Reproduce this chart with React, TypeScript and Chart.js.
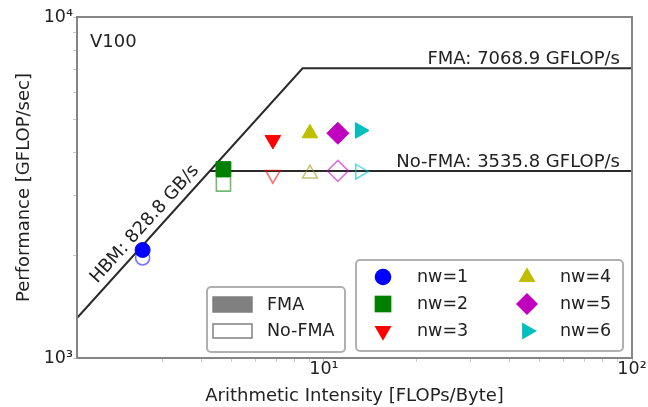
import React, { useEffect, useRef } from 'react';
import { Chart, registerables } from 'chart.js';

Chart.register(...registerables);

// ---- data ----
const seriesLabels = ['nw=1', 'nw=2', 'nw=3', 'nw=4', 'nw=5', 'nw=6'];
const seriesColors = ['#0000ff', '#008000', '#ff0000', '#bfbf00', '#bf00bf', '#00bfbf'];
const seriesOpenColors = [
  'rgba(0,0,255,0.55)',
  'rgba(0,128,0,0.55)',
  'rgba(255,0,0,0.55)',
  'rgba(150,150,0,0.55)',
  'rgba(191,0,191,0.55)',
  'rgba(0,191,191,0.6)',
];
const seriesStyles = ['circle', 'rect', 'triangle', 'triangle', 'rectRot', 'triangle'];
const seriesRotations = [0, 0, 180, 0, 0, 90];
const seriesRadii = [7.5, 10.5, 9, 9, 11, 9];

const arithmeticIntensity = [2.58, 4.72, 6.83, 9.01, 11.1, 13.1];
const perfFMA = [2074, 3581, 4360, 4560, 4560, 4648];
const perfNoFMA = [1965, 3236, 3447, 3471, 3539, 3519];

const hbmBandwidth = 828.8; // GB/s
const peakFMA = 7068.9; // GFLOP/s
const peakNoFMA = 3535.8; // GFLOP/s

const xRange = [1.58, 100];
const yRange = [1000, 10000];

const deviceLabel = 'V100';
const fmaLabel = `FMA: ${peakFMA} GFLOP/s`;
const noFmaLabel = `No-FMA: ${peakNoFMA} GFLOP/s`;
const hbmLabel = `HBM: ${hbmBandwidth} GB/s`;
const xTitle = 'Arithmetic Intensity [FLOPs/Byte]';
const yTitle = 'Performance [GFLOP/sec]';
const fmaLegendLabels = ['FMA', 'No-FMA'];

const SUP: Record<number, string> = { 0: '⁰', 1: '¹', 2: '²', 3: '³', 4: '⁴', 5: '⁵' };
const FONT = '"DejaVu Sans", sans-serif';
const TEXT = '#222222';
const SPINE = '#858585';

function logTick(v: number): string | null {
  const e = Math.floor(Math.log10(v) + 1e-9);
  const m = v / Math.pow(10, e);
  if (Math.abs(m - Math.round(m)) > 1e-6) return null;
  if (Math.abs(m - 1) < 1e-6) return '10' + (SUP[e] ?? '');
  return '';
}

function drawMarker(ctx: CanvasRenderingContext2D, style: string, rot: number, x: number, y: number, r: number) {
  ctx.beginPath();
  if (style === 'circle') {
    ctx.arc(x, y, r, 0, Math.PI * 2);
  } else if (style === 'rect') {
    const s = r * Math.SQRT1_2;
    ctx.rect(x - s, y - s, 2 * s, 2 * s);
  } else if (style === 'rectRot') {
    ctx.moveTo(x, y - r);
    ctx.lineTo(x + r, y);
    ctx.lineTo(x, y + r);
    ctx.lineTo(x - r, y);
    ctx.closePath();
  } else {
    let a = (rot * Math.PI) / 180;
    for (let k = 0; k < 3; k++) {
      const px = x + Math.sin(a) * r;
      const py = y - Math.cos(a) * r;
      if (k === 0) ctx.moveTo(px, py);
      else ctx.lineTo(px, py);
      a += (2 * Math.PI) / 3;
    }
    ctx.closePath();
  }
}

const annotationPlugin = {
  id: 'rooflineAnnotations',
  afterDatasetsDraw(chart: any) {
    const { ctx, chartArea, scales } = chart;
    const xs = scales.x;
    const ys = scales.y;
    ctx.save();
    // frame
    ctx.strokeStyle = SPINE;
    ctx.lineWidth = 2;
    ctx.strokeRect(chartArea.left, chartArea.top, chartArea.right - chartArea.left, chartArea.bottom - chartArea.top);

    ctx.fillStyle = TEXT;
    ctx.font = `18px ${FONT}`;
    ctx.textBaseline = 'alphabetic';
    // device label
    ctx.textAlign = 'left';
    ctx.fillText(deviceLabel, chartArea.left + 13, chartArea.top + 30);
    // peak labels
    ctx.textAlign = 'right';
    const xr = xs.getPixelForValue(xRange[1]) - 12;
    ctx.fillText(fmaLabel, xr, ys.getPixelForValue(peakFMA) - 4);
    ctx.fillText(noFmaLabel, xr, ys.getPixelForValue(peakNoFMA) - 4);

    // bandwidth label along the slope
    const x0 = xs.getPixelForValue(xRange[0]);
    const y0 = ys.getPixelForValue(hbmBandwidth * xRange[0]);
    const ridge = peakFMA / hbmBandwidth;
    const x1 = xs.getPixelForValue(ridge);
    const y1 = ys.getPixelForValue(peakFMA);
    const ang = Math.atan2(y1 - y0, x1 - x0);
    const ax = 1.92;
    const px = xs.getPixelForValue(ax);
    const py = ys.getPixelForValue(hbmBandwidth * ax);
    const off = 8;
    const nx = Math.sin(ang) * off;
    const ny = -Math.cos(ang) * off;
    ctx.translate(px + nx, py + ny);
    ctx.rotate(ang);
    ctx.textAlign = 'left';
    ctx.fillText(hbmLabel, 0, 0);
    ctx.restore();
  },
  afterDraw(chart: any) {
    const { ctx } = chart;
    ctx.save();
    ctx.font = `17.5px ${FONT}`;
    ctx.textBaseline = 'middle';
    ctx.textAlign = 'left';

    // left legend (FMA / No-FMA)
    ctx.beginPath();
    ctx.roundRect(207, 287, 138, 65, 4);
    ctx.fillStyle = 'rgba(255,255,255,0.85)';
    ctx.fill();
    ctx.strokeStyle = '#b0b0b0';
    ctx.lineWidth = 2;
    ctx.stroke();

    ctx.fillStyle = '#808080';
    ctx.fillRect(213, 297, 39, 15);
    ctx.strokeStyle = '#808080';
    ctx.lineWidth = 1.5;
    ctx.strokeRect(213, 297, 39, 15);
    ctx.fillStyle = '#ffffff';
    ctx.fillRect(213, 324, 39, 14);
    ctx.strokeRect(213, 324, 39, 14);
    ctx.fillStyle = TEXT;
    ctx.fillText(fmaLegendLabels[0], 267, 305);
    ctx.fillText(fmaLegendLabels[1], 267, 331);

    // right legend (series)
    ctx.beginPath();
    ctx.roundRect(356, 260, 267, 91, 4);
    ctx.fillStyle = 'rgba(255,255,255,0.85)';
    ctx.fill();
    ctx.strokeStyle = '#b0b0b0';
    ctx.lineWidth = 2;
    ctx.stroke();

    const legendRadii = [8.3, 11.8, 9.8, 9.8, 11, 9.8];
    seriesLabels.forEach((lab, i) => {
      const col = Math.floor(i / 3);
      const row = i % 3;
      const mx = col === 0 ? 383 : 527;
      const tx = col === 0 ? 417 : 560;
      const my = 277 + row * 27;
      drawMarker(ctx, seriesStyles[i], seriesRotations[i], mx, my, legendRadii[i]);
      ctx.fillStyle = seriesColors[i];
      ctx.fill();
      ctx.fillStyle = TEXT;
      ctx.fillText(lab, tx, my);
    });
    ctx.restore();
  },
};

export default function App() {
  const canvasRef = useRef<HTMLCanvasElement | null>(null);

  useEffect(() => {
    document.body.style.margin = '0';
    const canvas = canvasRef.current;
    if (!canvas) return;

    const ridgeFMA = peakFMA / hbmBandwidth;
    const ridgeNoFMA = peakNoFMA / hbmBandwidth;

    const markerSets: any[] = [];
    seriesLabels.forEach((lab, i) => {
      markerSets.push({
        label: lab,
        data: [{ x: arithmeticIntensity[i], y: perfFMA[i] }],
        pointStyle: seriesStyles[i],
        pointRotation: seriesRotations[i],
        pointRadius: seriesRadii[i],
        backgroundColor: seriesColors[i],
        borderColor: seriesColors[i],
        borderWidth: 1,
        showLine: false,
        order: 0,
      });
      markerSets.push({
        label: lab + ' No-FMA',
        data: [{ x: arithmeticIntensity[i], y: perfNoFMA[i] }],
        pointStyle: seriesStyles[i],
        pointRotation: seriesRotations[i],
        pointRadius: seriesRadii[i] - 0.5,
        backgroundColor: 'rgba(255,255,255,0)',
        borderColor: seriesOpenColors[i],
        borderWidth: 1.6,
        showLine: false,
        order: 0,
      });
    });

    const roofFMA = [
      { x: xRange[0], y: hbmBandwidth * xRange[0] },
      { x: ridgeFMA, y: peakFMA },
      { x: xRange[1], y: peakFMA },
    ];
    const roofNoFMA = [
      { x: ridgeNoFMA, y: peakNoFMA },
      { x: xRange[1], y: peakNoFMA },
    ];

    const chart = new Chart(canvas, {
      type: 'scatter',
      data: {
        datasets: [
          ...markerSets,
          {
            label: 'FMA roof',
            data: roofFMA,
            showLine: true,
            borderColor: '#2a2a2a',
            borderWidth: 2,
            pointRadius: 0,
            tension: 0,
            order: 1,
          },
          {
            label: 'No-FMA roof',
            data: roofNoFMA,
            showLine: true,
            borderColor: '#2a2a2a',
            borderWidth: 2,
            pointRadius: 0,
            tension: 0,
            order: 1,
          },
        ],
      },
      options: {
        animation: false,
        responsive: false,
        maintainAspectRatio: false,
        layout: { padding: { top: 17, right: 16, left: 0, bottom: 0 } },
        plugins: { legend: { display: false }, tooltip: { enabled: false } },
        scales: {
          x: {
            type: 'logarithmic',
            min: xRange[0],
            max: xRange[1],
            afterFit: (s: any) => { s.height = 49; },
            grid: { drawOnChartArea: false, drawTicks: true, tickLength: 4, tickColor: '#c8c8c8' },
            border: { display: true, color: SPINE, width: 2 },
            ticks: {
              autoSkip: false,
              maxRotation: 0,
              padding: -3,
              color: TEXT,
              font: { family: FONT, size: 17.5 },
              callback: (v: any) => logTick(Number(v)),
            },
            title: {
              display: true,
              text: xTitle,
              color: TEXT,
              font: { family: FONT, size: 18 },
              padding: { top: 0, bottom: 0 },
            },
          },
          y: {
            type: 'logarithmic',
            min: yRange[0],
            max: yRange[1],
            afterFit: (s: any) => { s.width = 77; },
            grid: { drawOnChartArea: false, drawTicks: true, tickLength: 4, tickColor: '#c8c8c8' },
            border: { display: true, color: SPINE, width: 2 },
            ticks: {
              autoSkip: false,
              padding: 0,
              color: TEXT,
              font: { family: FONT, size: 17.5 },
              callback: (v: any) => logTick(Number(v)),
            },
            title: {
              display: true,
              text: yTitle,
              color: TEXT,
              font: { family: FONT, size: 18 },
              padding: { top: 14, bottom: 0 },
            },
          },
        },
      },
      plugins: [annotationPlugin],
    });

    return () => chart.destroy();
  }, []);

  return (
    <div style={{ position: 'fixed', left: 0, top: 0, width: 648, height: 407, background: '#fff' }}>
      <canvas ref={canvasRef} width={648} height={407} style={{ width: 648, height: 407, display: 'block' }} />
    </div>
  );
}
